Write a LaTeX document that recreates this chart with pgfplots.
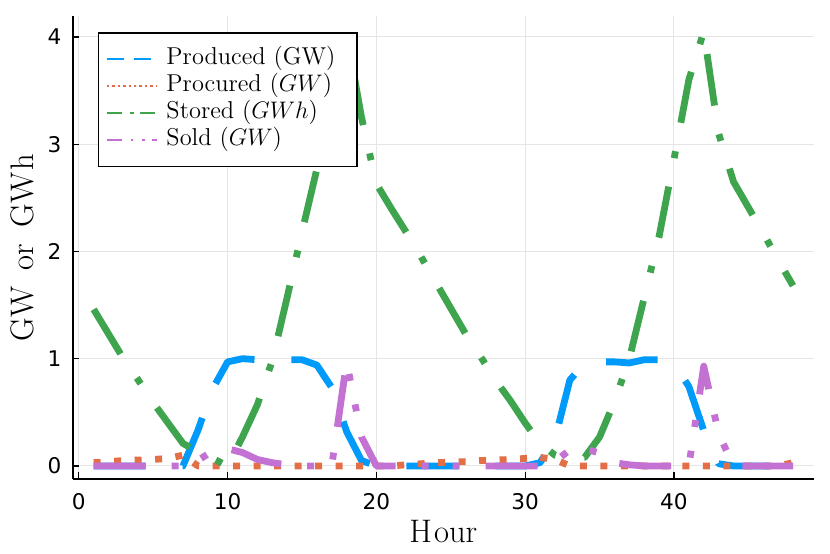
\documentclass[border=0pt]{standalone}
\usepackage{pgfplots}
\usepackage{pgfplotstable}
\usepackage{fontspec}
\pgfplotsset{compat=1.18}
\newfontfamily\dejavu{DejaVu Sans}
\definecolor{jblue}{HTML}{009AFA}
\definecolor{jorange}{HTML}{E36F47}
\definecolor{jgreen}{HTML}{3EA44E}
\definecolor{jpurple}{HTML}{C371D2}

\pgfplotstableread{
h  prod  proc  stor  sold
1  0     0.03  1.46  0
2  0     0.04  1.23  0
3  0     0.05  1.00  0
4  0     0.055 0.80  0
5  0     0.06  0.59  0
6  0     0.07  0.40  0
7  0     0.10  0.21  0
8  0.33  0     0.13  0.05
9  0.72  0     0.07  0.14
10 0.97  0     0.00  0.16
11 1.00  0     0.27  0.125
12 0.99  0     0.57  0.06
13 0.99  0     0.98  0.03
14 0.99  0     1.57  0.01
15 0.99  0     2.18  0
16 0.94  0     2.77  0
17 0.73  0     3.40  0
18 0.32  0     4.03  0.97
19 0.05  0     3.25  0.27
20 0     0     2.63  0
21 0     0     2.40  0
22 0     0.01  2.18  0
23 0     0.02  1.95  0
24 0     0.03  1.71  0
25 0     0.035 1.47  0
26 0     0.04  1.23  0
27 0     0.05  1.02  0
28 0     0.055 0.80  0
29 0     0.06  0.61  0
30 0     0.07  0.40  0
31 0.03  0.08  0.21  0
32 0.25  0.06  0.10  0.04
33 0.80  0     0.07  0.15
34 0.96  0     0.08  0.16
35 0.97  0     0.27  0.12
36 0.97  0     0.60  0.03
37 0.96  0     1.00  0.01
38 0.99  0     1.57  0
39 0.99  0     2.14  0
40 0.95  0     2.86  0
41 0.74  0     3.60  0
42 0.33  0     4.05  0.93
43 0.02  0     3.10  0.30
44 0     0     2.65  0
45 0     0     2.41  0
46 0     0     2.17  0
47 0     0     1.92  0
48 0     0.03  1.68  0
}\datatable

\begin{document}
\begin{tikzpicture}
\useasboundingbox (-36.35bp,-37.5bp) rectangle (378.65bp,239.5bp);
\begin{axis}[
  scale only axis,
  width=370.65bp, height=231.5bp,
  xmin=-0.41, xmax=49.41, ymin=-0.122, ymax=4.195,
  axis x line=bottom, axis y line=left,
  axis line style={line width=1bp, black, -},
  xtick={0,10,20,30,40}, ytick={0,1,2,3,4},
  tick align=inside, major tick length=3.3bp,
  tick style={line width=0.6bp, black},
  grid=major,
  major grid style={color=black!10, line width=0.5bp},
  /pgf/number format/assume math mode=true,
  xticklabel style={font=\dejavu\fontsize{10.8bp}{12bp}\selectfont, anchor=north, inner sep=0pt, yshift=-7.1bp},
  yticklabel style={font=\dejavu\fontsize{10.8bp}{12bp}\selectfont, anchor=east, inner sep=0pt, xshift=-5.5bp},
  xlabel={H\hspace{0.06em}our},
  ylabel={GW\hspace{0.5em}or\hspace{0.5em}GW\hspace{0.06em}h},
  label style={font=\fontsize{16.3bp}{18bp}\selectfont},
  xlabel style={at={(axis description cs:0.5,-0.1382)}, anchor=base, inner sep=0pt},
  ylabel style={at={(axis description cs:-0.05355,0.5)}, anchor=base, inner sep=0pt, rotate=0},
  legend image code/.code={\draw[#1] (0bp,0bp) -- (25bp,0bp); \path (29.2bp,0bp);},
  legend cell align=left,
  legend style={at={(axis description cs:0.0337,0.9654)}, anchor=north west,
    draw=black, line width=0.8bp, fill=white,
    inner xsep=3.7bp, inner ysep=6.5bp, row sep=0pt,
    font=\fontsize{12.2bp}{13.45bp}\selectfont,
    nodes={inner sep=0pt, text height=9.5bp, text depth=3.95bp}},
]
\addlegendimage{jblue, line width=1.1bp, dash pattern=on 8.5bp off 5bp}
\addlegendentry{Produced (GW)\hspace*{6.9bp}}
\addlegendimage{jorange, line width=1.1bp, dash pattern=on 1.2bp off 1.5bp}
\addlegendentry{Procured ($GW$)}
\addlegendimage{jgreen, line width=1.1bp, dash pattern=on 7.5bp off 4.2bp on 1.7bp off 3.3bp}
\addlegendentry{Stored ($GWh$)}
\addlegendimage{jpurple, line width=1.1bp, dash pattern=on 7.5bp off 4.5bp on 1.2bp off 4.5bp on 1.2bp off 3.5bp}
\addlegendentry{Sold ($GW$)}

\addplot[forget plot, jblue, line width=3.4bp, line join=round, dash pattern=on 26bp off 18.5bp] table[x=h, y=prod] {\datatable};
\addplot[forget plot, jorange, line width=3.4bp, line join=round, dash pattern=on 3.5bp off 6.75bp] table[x=h, y=proc] {\datatable};
\addplot[forget plot, jgreen, line width=3.4bp, line join=round, dash pattern=on 26bp off 14.5bp on 3.5bp off 14.5bp] table[x=h, y=stor] {\datatable};
\addplot[forget plot, jpurple, line width=3.4bp, line join=round, dash pattern=on 26bp off 13bp on 3.5bp off 12bp on 3.5bp off 13bp] table[x=h, y=sold] {\datatable};
\end{axis}
\end{tikzpicture}
\end{document}
